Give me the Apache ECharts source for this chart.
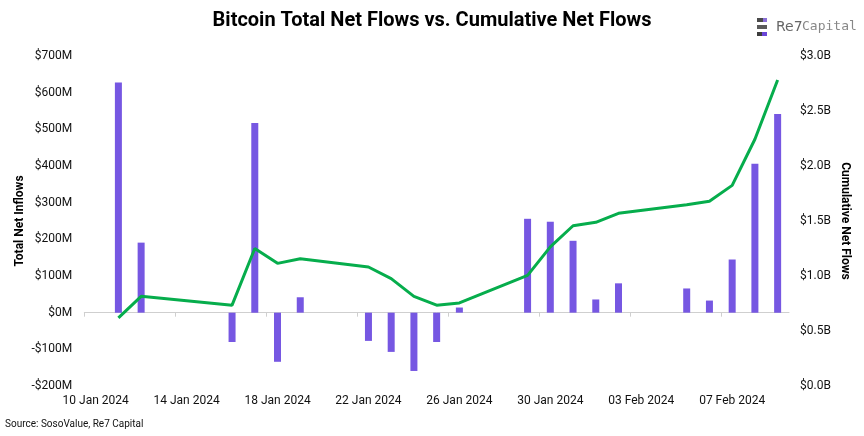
<!DOCTYPE html>
<html>
<head>
<meta charset="utf-8">
<script src="https://cdn.jsdelivr.net/npm/echarts@6/dist/echarts.min.js"></script>
<style>
html,body{margin:0;padding:0;background:#fff;}
#chart{width:864px;height:436px;}
</style>
</head>
<body>
<div id="chart"></div>
<script>
// ---- data ----
const dates = ['2024-01-11','2024-01-12','2024-01-16','2024-01-17','2024-01-18','2024-01-19',
  '2024-01-22','2024-01-23','2024-01-24','2024-01-25','2024-01-26',
  '2024-01-29','2024-01-30','2024-01-31','2024-02-01','2024-02-02',
  '2024-02-05','2024-02-06','2024-02-07','2024-02-08','2024-02-09'];
// daily total net flows, $M
const netFlows = [628, 191, -80, 517, -134, 42, -77, -107, -159, -80, 14,
  256, 248, 196, 36, 80, 66, 33, 145, 406, 542];
// cumulative net flows, $B
const cumFlows = [0.62, 0.815, 0.735, 1.25, 1.115, 1.157, 1.082, 0.976, 0.815, 0.735, 0.755,
  1.006, 1.265, 1.457, 1.488, 1.57, 1.648, 1.679, 1.824, 2.243, 2.782];
const leftTicks = [-200, -100, 0, 100, 200, 300, 400, 500, 600, 700];
const rightTicks = [0, 0.5, 1.0, 1.5, 2.0, 2.5, 3.0];
const startDate = '2024-01-10';
const tickDates = ['2024-01-10','2024-01-14','2024-01-18','2024-01-22','2024-01-26','2024-01-30','2024-02-03','2024-02-07'];
const endDate = '2024-02-10';

const DAY = 86400000;
const t0 = Date.parse(startDate + 'T00:00:00Z');
const dayNum = d => (Date.parse(d + 'T00:00:00Z') - t0) / DAY;
const months = ['Jan','Feb','Mar','Apr','May','Jun','Jul','Aug','Sep','Oct','Nov','Dec'];
const fmtDay = v => {
  const d = new Date(t0 + Math.floor(v) * DAY);
  const dd = String(d.getUTCDate()).padStart(2, '0');
  return dd + ' ' + months[d.getUTCMonth()] + ' ' + d.getUTCFullYear();
};

const barData = dates.map((d, i) => [dayNum(d) + 0.5, netFlows[i]]);
const lineData = dates.map((d, i) => [dayNum(d) + 0.5, cumFlows[i]]);
const tickVals = tickDates.map(dayNum);
const labelVals = tickDates.map(d => dayNum(d) + 0.5);
const xMax = dayNum(endDate);

const FONT = 'Roboto';
const chart = echarts.init(document.getElementById('chart'), null, {renderer: 'canvas'});
chart.setOption({
  backgroundColor: '#ffffff',
  animation: false,
  textStyle: {fontFamily: FONT},
  title: {
    text: 'Bitcoin Total Net Flows vs. Cumulative Net Flows',
    left: 'center', top: 6,
    textStyle: {fontFamily: FONT, fontWeight: 'bold', fontSize: 20, color: '#000'}
  },
  grid: {left: 84.3, right: 75, top: 56, bottom: 50, containLabel: false},
  xAxis: [{
    type: 'value', min: 0, max: xMax, position: 'bottom',
    axisLine: {show: true, onZero: true, onZeroAxisIndex: 0, lineStyle: {color: '#cfcfcf', width: 1}},
    axisTick: {show: true, customValues: tickVals, length: 4, lineStyle: {color: '#cfcfcf'}},
    axisLabel: {show: false}, splitLine: {show: false}
  }, {
    type: 'value', min: 0, max: xMax, position: 'bottom',
    axisLine: {show: false, onZero: false}, axisTick: {show: false}, splitLine: {show: false},
    axisLabel: {
      customValues: labelVals, formatter: v => fmtDay(v),
      color: '#111', fontSize: 12, margin: 9, fontFamily: FONT
    }
  }],
  yAxis: [{
    type: 'value', min: leftTicks[0], max: leftTicks[leftTicks.length - 1], interval: 100,
    name: 'Total Net Inflows', nameLocation: 'middle', nameGap: 58, nameRotate: 90,
    nameMoveOverlap: false,
    nameTextStyle: {fontWeight: 'bold', fontSize: 12, color: '#000', fontFamily: FONT},
    axisLine: {show: false}, axisTick: {show: false}, splitLine: {show: false},
    axisLabel: {
      formatter: v => (v < 0 ? '-$' + Math.abs(v) : '$' + v) + 'M',
      color: '#111', fontSize: 12, margin: 12, fontFamily: FONT
    }
  }, {
    type: 'value', min: rightTicks[0], max: rightTicks[rightTicks.length - 1], interval: 0.5,
    position: 'right',
    name: 'Cumulative Net Flows', nameLocation: 'middle', nameGap: 50, nameRotate: -90,
    nameMoveOverlap: false,
    nameTextStyle: {fontWeight: 'bold', fontSize: 12, color: '#000', fontFamily: FONT},
    axisLine: {show: false}, axisTick: {show: false}, splitLine: {show: false},
    axisLabel: {
      formatter: v => '$' + v.toFixed(1) + 'B',
      color: '#111', fontSize: 12, margin: 11, fontFamily: FONT
    }
  }],
  series: [{
    type: 'bar', name: 'Total Net Flows', xAxisIndex: 0, yAxisIndex: 0,
    data: barData, barWidth: 7,
    itemStyle: {color: '#7657E2'}
  }, {
    type: 'line', name: 'Cumulative Net Flows', xAxisIndex: 0, yAxisIndex: 1,
    data: lineData, showSymbol: false, symbol: 'none',
    lineStyle: {color: '#06AD4C', width: 3}, z: 5
  }],
  graphic: [
    {type: 'text', left: 5, top: 419, style: {text: 'Source: SosoValue, Re7 Capital', fontSize: 10, fill: '#111', fontFamily: FONT}},
    {type: 'group', left: 757, top: 18, children: [
      {type: 'rect', shape: {x: 0, y: 0, width: 6, height: 4}, style: {fill: '#4a4a4a'}},
      {type: 'rect', shape: {x: 6, y: 0, width: 4, height: 4}, style: {fill: '#8a6fd6'}},
      {type: 'rect', shape: {x: 0, y: 7, width: 10, height: 4}, style: {fill: '#5a5a5a'}},
      {type: 'rect', shape: {x: 0, y: 14, width: 5, height: 4}, style: {fill: '#3d3d3d'}},
      {type: 'rect', shape: {x: 5, y: 14, width: 5, height: 4}, style: {fill: '#6a45d8'}},
      {type: 'text', x: 19, y: 2, style: {text: 'Re7', fontSize: 14, fill: '#666', fontFamily: 'DejaVu Sans'}},
      {type: 'text', x: 45, y: 2, style: {text: 'Capital', fontSize: 13, fill: '#888', fontFamily: 'DejaVu Sans Mono'}}
    ]}
  ]
});
</script>
</body>
</html>
